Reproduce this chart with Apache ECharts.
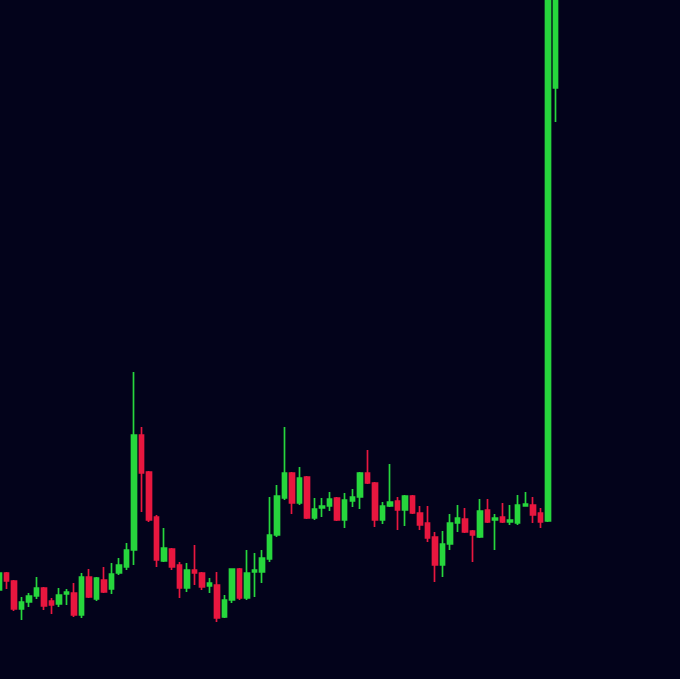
<!DOCTYPE html>
<html>
<head>
<meta charset="utf-8">
<style>
  html, body { margin: 0; padding: 0; background: #03031b; overflow: hidden; }
  #chart { position: absolute; left: -5px; top: 0; width: 685px; height: 679px; }
</style>
<script src="https://cdn.jsdelivr.net/npm/echarts@6/dist/echarts.min.js"></script>
</head>
<body>
<div id="chart"></div>
<script>
// Candle values: [open, close, low, high]
const categories = Array.from({length: 75}, (_, i) => 'T' + (i + 1));

const ohlc = [
  [11.0, 12.7, 10.8, 13.0],
  [12.7, 11.9, 11.1, 12.8],
  [11.9, 9.1, 8.9, 12.0],
  [9.1, 9.8, 8.0, 10.3],
  [9.8, 10.4, 9.3, 10.7],
  [10.4, 11.2, 10.1, 12.3],
  [11.2, 9.4, 9.0, 11.3],
  [9.9, 9.5, 8.6, 10.2],
  [9.6, 10.5, 9.3, 11.2],
  [10.6, 10.8, 9.5, 11.1],
  [10.7, 8.5, 8.3, 11.7],
  [8.5, 12.3, 8.2, 12.7],
  [12.3, 10.3, 10.2, 13.1],
  [10.1, 12.2, 9.9, 12.3],
  [12.0, 10.8, 10.7, 13.3],
  [11.1, 12.6, 10.6, 13.7],
  [12.7, 13.5, 12.5, 14.2],
  [13.3, 15.0, 13.0, 15.7],
  [15.0, 26.5, 13.5, 32.8],
  [26.5, 22.7, 18.8, 27.3],
  [22.8, 18.0, 17.8, 22.9],
  [18.3, 14.0, 13.3, 18.5],
  [13.9, 15.2, 13.8, 17.2],
  [15.1, 13.3, 13.0, 15.2],
  [13.5, 11.2, 10.2, 13.8],
  [11.2, 13.0, 10.8, 13.7],
  [13.0, 12.7, 11.5, 15.5],
  [12.7, 11.3, 11.0, 12.8],
  [11.4, 11.7, 10.7, 12.2],
  [11.5, 8.2, 7.8, 12.8],
  [8.3, 10.0, 8.2, 10.5],
  [10.0, 13.1, 9.7, 13.1],
  [13.1, 10.2, 10.0, 13.2],
  [10.2, 12.7, 10.0, 15.0],
  [12.8, 13.0, 10.3, 14.7],
  [12.8, 14.2, 11.7, 15.0],
  [14.1, 16.5, 13.8, 20.3],
  [16.5, 20.4, 16.3, 21.5],
  [20.2, 22.7, 20.0, 27.3],
  [22.7, 19.7, 18.6, 22.8],
  [19.7, 22.2, 19.5, 23.3],
  [22.3, 18.2, 18.1, 22.4],
  [18.2, 19.1, 18.0, 20.2],
  [19.2, 19.4, 18.3, 20.2],
  [19.4, 20.1, 18.9, 20.8],
  [20.2, 18.0, 17.9, 20.3],
  [18.0, 20.0, 17.2, 20.7],
  [19.9, 20.3, 19.3, 21.1],
  [20.3, 22.7, 19.1, 22.8],
  [22.7, 21.7, 21.6, 25.0],
  [21.7, 18.0, 17.3, 21.8],
  [18.0, 19.4, 17.6, 19.8],
  [19.4, 19.8, 19.3, 23.6],
  [19.9, 19.0, 17.0, 20.3],
  [19.0, 20.4, 17.4, 20.5],
  [20.4, 18.7, 18.6, 20.5],
  [18.7, 17.5, 17.0, 19.4],
  [17.7, 16.2, 15.8, 19.4],
  [16.3, 13.5, 11.8, 16.8],
  [13.5, 15.6, 12.3, 16.9],
  [15.6, 17.7, 15.0, 18.6],
  [17.7, 18.2, 16.8, 19.5],
  [18.1, 16.8, 16.7, 19.2],
  [16.9, 16.5, 13.8, 17.0],
  [16.3, 18.9, 16.2, 20.1],
  [19.0, 17.8, 17.7, 20.1],
  [18.0, 18.2, 15.0, 18.6],
  [18.3, 17.8, 17.7, 19.7],
  [17.8, 18.0, 17.5, 19.5],
  [17.7, 19.5, 17.5, 20.5],
  [19.4, 19.6, 19.4, 20.8],
  [19.5, 18.5, 17.7, 20.3],
  [18.7, 17.8, 17.2, 19.2],
  [17.9, 76.0, 17.8, 78.0],
  [61.2, 78.0, 57.8, 80.0]
];

const chart = echarts.init(document.getElementById('chart'));
chart.setOption({
  backgroundColor: '#03031b',
  animation: false,
  grid: { left: 0, right: 120.9, top: 0, bottom: 0 },
  xAxis: {
    type: 'category',
    data: categories,
    boundaryGap: true,
    show: false
  },
  yAxis: {
    type: 'value',
    min: 2.1,
    max: 70,
    show: false,
    splitLine: { show: false }
  },
  series: [{
    type: 'candlestick',
    data: ohlc,
    barWidth: 5,
    clip: true,
    itemStyle: {
      color: '#27d63d',
      color0: '#e8173f',
      borderColor: '#27d63d',
      borderColor0: '#e8173f',
      borderWidth: 1.7
    }
  }]
});
</script>
</body>
</html>
